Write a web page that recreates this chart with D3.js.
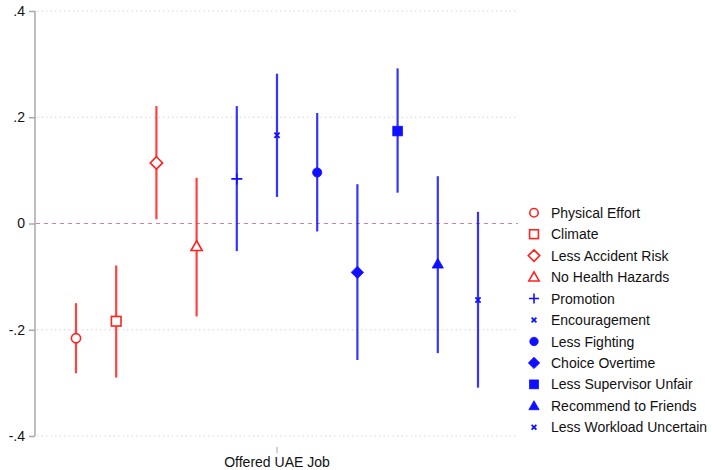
<!DOCTYPE html>
<html>
<head>
<meta charset="utf-8">
<script src="https://cdn.jsdelivr.net/npm/d3@7"></script>
<style>
  body { margin: 0; background: #fff; }
  svg { display: block; font-family: "Liberation Sans", Arial, sans-serif; }
</style>
</head>
<body>
<script>
// outcomes (one coefficient per outcome, all for "Offered UAE Job")
var labels = ["Physical Effort", "Climate", "Less Accident Risk", "No Health Hazards",
  "Promotion", "Encouragement", "Less Fighting", "Choice Overtime",
  "Less Supervisor Unfair", "Recommend to Friends", "Less Workload Uncertain"];
var estimates = [-0.216, -0.184, 0.114, -0.043, 0.084, 0.166, 0.096, -0.092, 0.174, -0.076, -0.144];
var ciLow  = [-0.282, -0.290, 0.008, -0.175, -0.052, 0.050, -0.015, -0.257, 0.058, -0.244, -0.309];
var ciHigh = [-0.150, -0.079, 0.221, 0.086, 0.221, 0.282, 0.208, 0.074, 0.292, 0.089, 0.022];
var groups = ["red", "red", "red", "red", "blue", "blue", "blue", "blue", "blue", "blue", "blue"];
var markers = ["circle", "square", "diamond", "triangle", "plus", "cross",
  "circle", "diamond", "square", "triangle", "cross"];
var yTicks = [-0.4, -0.2, 0, 0.2, 0.4];
var yTickLabels = ["-.4", "-.2", "0", ".2", ".4"];
var xLabel = "Offered UAE Job";

var width = 713, height = 470;
var colors = { red: "#ff2020", blue: "#1010ff" };

var svg = d3.select("body").append("svg")
  .attr("width", width)
  .attr("height", height);

var x = d3.scalePoint().domain(labels).range([76, 478]);
var y = d3.scaleLinear().domain([-0.4, 0.4]).range([436, 11]);

// gridlines
svg.append("g").selectAll("line")
  .data(yTicks.filter(function(d) { return d !== 0; }))
  .enter().append("line")
  .attr("x1", 37).attr("x2", 518)
  .attr("y1", function(d) { return y(d); })
  .attr("y2", function(d) { return y(d); })
  .attr("stroke", "#d6d6d6")
  .attr("stroke-width", 1)
  .attr("stroke-dasharray", "1.5,3");

// zero reference line
svg.append("line")
  .attr("x1", 36).attr("x2", 518)
  .attr("y1", y(0)).attr("y2", y(0))
  .attr("stroke", "#d67fa8")
  .attr("stroke-width", 1.2)
  .attr("stroke-dasharray", "4,4");

// y axis
var yAxis = d3.axisLeft(y)
  .tickValues(yTicks)
  .tickSize(6)
  .tickPadding(4)
  .tickFormat(function(d, i) { return yTickLabels[i]; });

var ga = svg.append("g")
  .attr("transform", "translate(35,0)")
  .call(yAxis);
ga.select(".domain").attr("stroke", "#a8a8a8").attr("stroke-width", 1.5)
  .attr("d", "M0," + y(0.4) + "V" + y(-0.4));
ga.selectAll(".tick line").attr("stroke", "#a8a8a8").attr("stroke-width", 1.5);
ga.selectAll(".tick text").attr("fill", "#111").style("font-size", "14px");

// x tick + label
var xMid = 277;
svg.append("line")
  .attr("x1", xMid).attr("x2", xMid)
  .attr("y1", 447).attr("y2", 453)
  .attr("stroke", "#a8a8a8");
svg.append("text")
  .attr("x", xMid).attr("y", 467)
  .attr("text-anchor", "middle")
  .style("font-size", "14px")
  .attr("fill", "#111")
  .text(xLabel);

// marker drawing
function drawMarker(g, type, group, cx, cy, scale) {
  var c = colors[group];
  var open = group === "red";
  var s = scale || 1;
  var el;
  if (type === "circle") {
    el = g.append("circle").attr("cx", cx).attr("cy", cy).attr("r", 4.6 * s);
  } else if (type === "square") {
    el = g.append("rect").attr("x", cx - 4.8 * s).attr("y", cy - 4.8 * s)
      .attr("width", 9.6 * s).attr("height", 9.6 * s);
  } else if (type === "diamond") {
    var r = 6.2 * s;
    el = g.append("path").attr("d", "M" + cx + "," + (cy - r) + "L" + (cx + r) + "," + cy +
      "L" + cx + "," + (cy + r) + "L" + (cx - r) + "," + cy + "Z");
  } else if (type === "triangle") {
    var t = 5.6 * s;
    el = g.append("path").attr("d", "M" + cx + "," + (cy - t) + "L" + (cx + t) + "," + (cy + t * 0.75) +
      "L" + (cx - t) + "," + (cy + t * 0.75) + "Z");
  } else if (type === "plus") {
    var p = 5.5 * s;
    g.append("path").attr("d", "M" + (cx - p) + "," + cy + "H" + (cx + p) + "M" + cx + "," + (cy - p) + "V" + (cy + p))
      .attr("stroke", c).attr("stroke-width", 1.6).attr("fill", "none");
    return;
  } else if (type === "cross") {
    var k = 2.6 * s;
    g.append("path").attr("d", "M" + (cx - k) + "," + (cy - k) + "L" + (cx + k) + "," + (cy + k) +
      "M" + (cx + k) + "," + (cy - k) + "L" + (cx - k) + "," + (cy + k))
      .attr("stroke", c).attr("stroke-width", 1.8).attr("fill", "none");
    return;
  }
  if (open) {
    el.attr("fill", "#fff").attr("stroke", c).attr("stroke-width", 1.6);
  } else {
    el.attr("fill", c).attr("stroke", c).attr("stroke-width", 0.8);
  }
}

// confidence intervals
var plot = svg.append("g");
plot.selectAll("line.ci")
  .data(labels)
  .enter().append("line")
  .attr("class", "ci")
  .attr("x1", function(d) { return x(d); })
  .attr("x2", function(d) { return x(d); })
  .attr("y1", function(d, i) { return y(ciLow[i]); })
  .attr("y2", function(d, i) { return y(ciHigh[i]); })
  .attr("stroke", function(d, i) { return colors[groups[i]]; })
  .attr("stroke-opacity", 0.85)
  .attr("stroke-width", 2.2);

// point estimates
labels.forEach(function(d, i) {
  drawMarker(plot, markers[i], groups[i], x(d), y(estimates[i]));
});

// legend
var legend = svg.append("g");
labels.forEach(function(d, i) {
  var ly = 212.7 + i * 21.46;
  drawMarker(legend, markers[i], groups[i], 534, ly, 0.92);
  legend.append("text")
    .attr("x", 551).attr("y", ly)
    .attr("dy", "0.36em")
    .style("font-size", "14px")
    .attr("fill", "#111")
    .text(d);
});
</script>
</body>
</html>
